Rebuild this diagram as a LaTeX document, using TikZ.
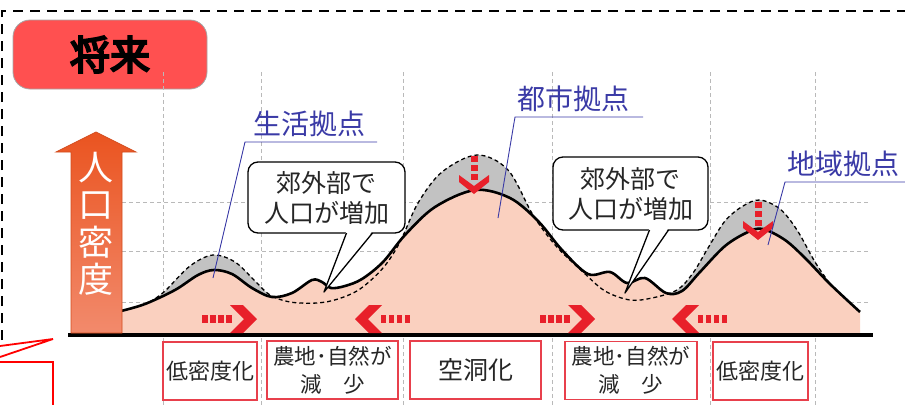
\documentclass[tikz,border=0pt]{standalone}
\usepackage{fontspec}
\setmainfont{Noto Sans CJK JP}
\newfontfamily\heavyfont[FakeBold=5]{Noto Sans CJK JP}
\definecolor{titlered}{HTML}{FF5050}
\definecolor{hillpink}{HTML}{FAD0BF}
\definecolor{hillgray}{HTML}{C2C2C2}
\definecolor{arrowred}{HTML}{E8202A}
\definecolor{boxred}{HTML}{E8404C}
\definecolor{labelblue}{HTML}{3A3AA6}
\definecolor{densitytop}{HTML}{EA5420}
\definecolor{densitybot}{HTML}{F28A6C}
\begin{document}
\begin{tikzpicture}[x=1pt,y=-1pt,inner sep=0pt,outer sep=0pt,
titlebox/.style={draw=gray!70,fill=titlered,rounded corners=17pt,minimum width=194pt,minimum height=69pt,line width=0.8pt,font=\heavyfont\fontsize{40}{42}\selectfont},
gridline/.style={gray!55,line width=0.9pt,dash pattern=on 4pt off 3pt},
bubble/.style={draw,fill=white,rounded corners=10pt,line width=1.3pt,align=center,text=black!85,font=\fontsize{25}{30}\selectfont},
reason/.style={draw=boxred,fill=white,line width=1.1pt,minimum height=58pt,align=center,text=black!85},
bluelabel/.style={anchor=south west,text=labelblue,align=left,inner ysep=5pt,font=\fontsize{28}{30}\selectfont},
lead/.style={labelblue,line width=0.9pt},
chevright/.pic={\fill[arrowred] (0,0) -- (-14,-14) -- (-27,-14) -- (-13,0) -- (-27,14) -- (-14,14) -- cycle;
  \foreach \q in {31,39,47,55} \fill[arrowred] (-\q,-4) rectangle ++(5.5,8);},
chevdown/.pic={\fill[arrowred] (0,0) -- (15,-12) -- (15,-19) -- (0,-8) -- (-15,-19) -- (-15,-12) -- cycle;
  \foreach \q in {38,29,20} \fill[arrowred] (-3.5,-\q) rectangle ++(7,6);}]
\useasboundingbox (0,0) rectangle (905,405);
% frame and title
\draw[line width=1.8pt,dash pattern=on 10pt off 7pt] (2,340) -- (2,11) -- (905,11);
\node[titlebox] (title) at (110,54.5) {\raisebox{-3pt}{将来}};
% grid
\foreach \gx in {163,261,403,552,710,815} \draw[gridline] (\gx,72) -- (\gx,405);
\foreach \gy in {202,251,302} \draw[gridline] (122,\gy) -- (868,\gy);
% population profile: past (dashed) and future (solid)
\fill[hillgray] (150,334) -- plot[smooth,tension=0.55] coordinates {(150,302) (165,291) (190,266) (213,255) (235,262) (255,281) (270,295) (290,302) (317,303) (338,299) (360,289) (383,268) (400,242) (418,203) (442,172) (477,155) (508,170) (533,215) (556,246) (583,272) (605,291) (630,300) (652,298) (677,290) (693,273) (708,248) (725,221) (743,206) (760,200) (780,209) (797,230) (815,262) (830,284)} -- (830,334) -- cycle;
\fill[hillpink] (121,334) -- plot[smooth,tension=0.55] coordinates {(121,311) (145,304) (175,290) (198,275) (214,270) (232,274) (252,288) (272,297) (292,293) (312,280) (322,282) (331,288) (345,286) (362,279) (383,262) (405,235) (435,207) (475,190) (510,198) (538,221) (562,250) (588,274) (610,272) (627,283) (645,278) (666,293) (682,291) (700,272) (725,246) (748,232) (763,229) (785,240) (805,258) (830,284) (860,312)} -- (860,334) -- cycle;
\draw[line width=1.3pt,dash pattern=on 4pt off 3pt] plot[smooth,tension=0.55] coordinates {(150,302) (165,291) (190,266) (213,255) (235,262) (255,281) (270,295) (290,302) (317,303) (338,299) (360,289) (383,268) (400,242) (418,203) (442,172) (477,155) (508,170) (533,215) (556,246) (583,272) (605,291) (630,300) (652,298) (677,290) (693,273) (708,248) (725,221) (743,206) (760,200) (780,209) (797,230) (815,262) (830,284)};
\draw[line width=2.6pt,line join=round] plot[smooth,tension=0.55] coordinates {(121,311) (145,304) (175,290) (198,275) (214,270) (232,274) (252,288) (272,297) (292,293) (312,280) (322,282) (331,288) (345,286) (362,279) (383,262) (405,235) (435,207) (475,190) (510,198) (538,221) (562,250) (588,274) (610,272) (627,283) (645,278) (666,293) (682,291) (700,272) (725,246) (748,232) (763,229) (785,240) (805,258) (830,284) (860,312)};
\draw[line width=3.5pt] (68,335) -- (873,335);
% density arrow
\shade[top color=densitytop,bottom color=densitybot,draw=densitytop!90!black,line width=0.8pt]
  (71,333) -- (71,152) -- (56,152) -- (96,132) -- (136,152) -- (122,152) -- (122,333) -- cycle;
\node[text=white,align=center,font=\fontsize{35}{37.5}\selectfont] (density) at (96,224) {人\\口\\密\\度};
% red arrows
\pic at (257,319) {chevright};
\pic[rotate=180] at (355,319) {chevright};
\pic at (595,319) {chevright};
\pic[rotate=180] at (672,319) {chevright};
\pic at (474,194) {chevdown};
\pic at (758,240) {chevdown};
% callouts
\node[bubble,minimum width=157pt,minimum height=71pt] (suburbL) at (326.5,197.5) {郊外部で\\人口が増加};
\coordinate (tailL) at (324,292);
\fill[white] ([xshift=20pt,yshift=2pt]suburbL.south) -- (tailL) -- ([xshift=46pt,yshift=2pt]suburbL.south) -- cycle;
\draw[line width=1.3pt,line join=round] ([xshift=20pt]suburbL.south) -- (tailL) -- ([xshift=46pt]suburbL.south);
\node[bubble,minimum width=155pt,minimum height=73pt] (suburbR) at (630.5,193.5) {郊外部で\\人口が増加};
\coordinate (tailR) at (625,293);
\fill[white] ([xshift=19pt,yshift=2pt]suburbR.south) -- (tailR) -- ([xshift=38pt,yshift=2pt]suburbR.south) -- cycle;
\draw[line width=1.3pt,line join=round] ([xshift=19pt]suburbR.south) -- (tailR) -- ([xshift=38pt]suburbR.south);
% blue labels
\coordinate (lifeTip) at (213,278);
\coordinate (cityTip) at (498,218);
\coordinate (regionTip) at (768,245);
\node[bluelabel,text width=132pt] (lblLife) at (245,142) {\hspace*{8pt}生活拠点};
\node[bluelabel,text width=128pt] (lblCity) at (515,117) {\hspace*{2pt}都市拠点};
\node[bluelabel,text width=120pt] (lblRegion) at (785,182) {\hspace*{2pt}地域拠点};
\draw[lead] (lifeTip) -- (lblLife.south west) -- (lblLife.south east);
\draw[lead] (cityTip) -- (lblCity.south west) -- (lblCity.south east);
\draw[lead] (regionTip) -- (lblRegion.south west) -- (lblRegion.south east);
% bottom boxes
\node[reason,minimum width=94pt,font=\fontsize{22}{26}\selectfont] (lowL) at (210,371) {低密度化};
\node[reason,minimum width=131pt,font=\fontsize{21.5}{28}\selectfont] (farmL) at (332.5,370) {農地･自然が\\減　少};
\node[reason,minimum width=131pt,font=\fontsize{25}{28}\selectfont] (hollow) at (475.5,370) {空洞化};
\node[reason,minimum width=132pt,font=\fontsize{21.5}{28}\selectfont] (farmR) at (631,370.5) {農地･自然が\\減　少};
\node[reason,minimum width=95pt,font=\fontsize{22}{26}\selectfont] (lowR) at (760.5,371) {低密度化};
% cut-off callout at the edge
\draw[red,line width=1.8pt] (0,346) -- (53,339) -- (0,357);
\draw[red,line width=1.8pt] (0,362) -- (53,362) -- (53,405);
\end{tikzpicture}
\end{document}
